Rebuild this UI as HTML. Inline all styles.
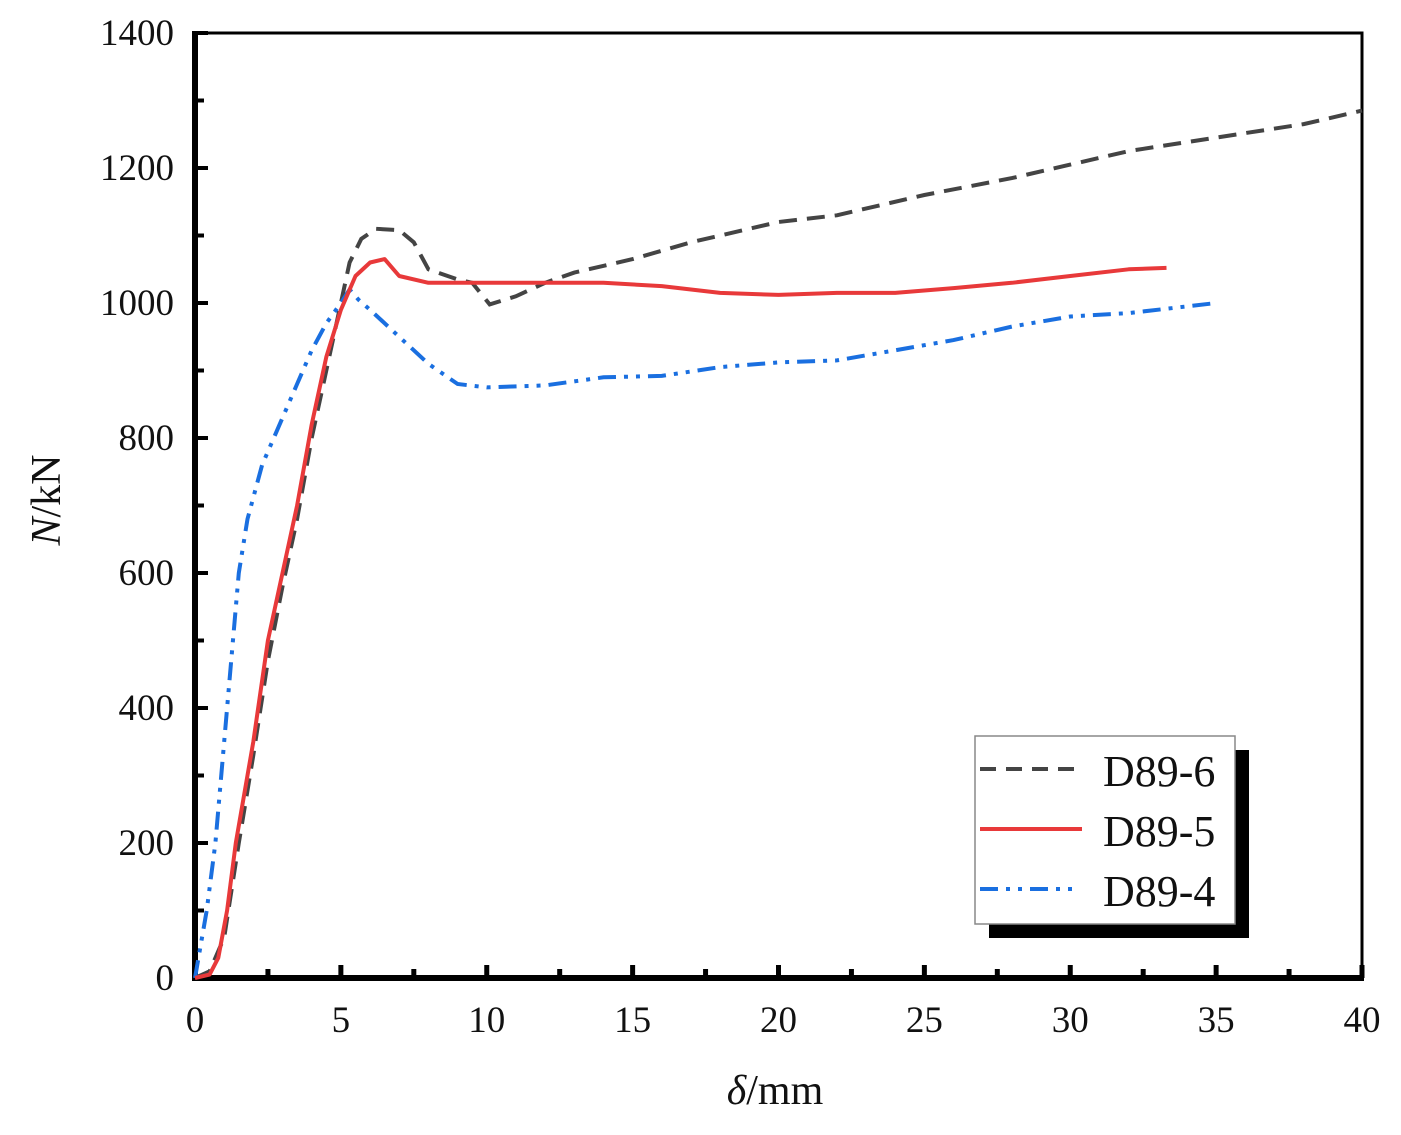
<!DOCTYPE html>
<html><head><meta charset="utf-8"><style>
body{margin:0;background:#fff;}
svg text{font-family:"Liberation Serif",serif;fill:#111;}
</style></head><body>
<svg id="chart" width="1401" height="1130" xmlns="http://www.w3.org/2000/svg">
<g id="axes"></g>
<g id="series"></g>
<text transform="translate(60,500) rotate(-90)" text-anchor="middle" font-size="42"><tspan font-style="italic">N</tspan>/kN</text>
<text x="775" y="1104" text-anchor="middle" font-size="42"><tspan font-style="italic">δ</tspan>/mm</text>
<g>
<rect x="989" y="750" width="260" height="188" fill="#000"/>
<rect x="975" y="736" width="260" height="188" fill="#fff" stroke="#888" stroke-width="1.5"/>
<line x1="980" y1="769" x2="1082" y2="769" stroke="#444" stroke-width="4" stroke-dasharray="16,10"/>
<text x="1103" y="786" font-size="44">D89-6</text>
<line x1="980" y1="829" x2="1082" y2="829" stroke="#e8393a" stroke-width="4"/>
<text x="1103" y="846" font-size="44">D89-5</text>
<line x1="980" y1="889" x2="1072" y2="889" stroke="#1a6fe0" stroke-width="4" stroke-dasharray="18,8,4,8,4,8"/>
<text x="1103" y="906" font-size="44">D89-4</text>
</g>
</svg>
<script>
const xTicks=[0,5,10,15,20,25,30,35,40];
const yTicks=[0,200,400,600,800,1000,1200,1400];
const d896X=[0,0.5,1,1.5,2,2.5,3,3.5,4,4.5,5,5.3,5.7,6.2,7,7.5,8,9,9.5,10.1,11,12,13,15,17,20,22,25,28,30,32,35,38,40];
const d896Y=[0,10,60,200,330,470,580,680,800,900,1000,1060,1095,1110,1108,1090,1050,1035,1030,998,1010,1030,1045,1065,1090,1120,1130,1160,1185,1205,1225,1245,1265,1285];
const d895X=[0,0.5,0.8,1.1,1.4,2,2.5,3,3.5,4,4.5,5,5.5,6,6.5,7,8,10,12,14,16,18,20,22,24,26,28,30,32,33.3];
const d895Y=[0,5,30,100,200,350,500,600,700,820,920,990,1040,1060,1065,1040,1030,1030,1030,1030,1025,1015,1012,1015,1015,1022,1030,1040,1050,1052];
const d894X=[0,0.4,0.7,1.1,1.5,1.8,2.3,3,3.5,4,4.5,5,5.3,5.6,6,7,8,9,10,12,14,16,18,20,22,24,26,28,30,32,34,35];
const d894Y=[0,100,200,400,600,680,760,830,880,930,970,1000,1020,1005,990,950,910,880,875,878,890,892,905,912,915,930,945,965,980,985,995,1000];
const L=195,R=1362,T=33,B=978;
const X=v=>L+(R-L)*v/40, Y=v=>B-(B-T)*v/1400;
const NS='http://www.w3.org/2000/svg';
const axes=document.getElementById('axes'), ser=document.getElementById('series');
function mk(tag,attrs,parent){const e=document.createElementNS(NS,tag);for(const k in attrs)e.setAttribute(k,attrs[k]);parent.appendChild(e);return e;}
let e;
e=mk('rect',{x:L,y:T,width:R-L,height:B-T,fill:'none',stroke:'#000','stroke-width':3},axes);


e=mk('line',{x1:L,y1:T-2,x2:L,y2:B+3,stroke:'#000','stroke-width':6},axes);


e=mk('line',{x1:L-3,y1:B,x2:R+2,y2:B,stroke:'#000','stroke-width':6},axes);


for(let v=0;v<=40;v+=2.5){const maj=v%5===0;
e=mk('line',{x1:X(v),y1:B,x2:X(v),y2:B-(maj?13:9),stroke:'#000','stroke-width':5},axes);

}
for(let v=0;v<=1400;v+=100){const maj=v%200===0;
e=mk('line',{x1:L,y1:Y(v),x2:L+(maj?13:9),y2:Y(v),stroke:'#000','stroke-width':4},axes);

}
xTicks.forEach(v=>{e=mk('text',{x:X(v),y:1032,'text-anchor':'middle','font-size':37},axes);e.textContent=v;

});
yTicks.forEach(v=>{e=mk('text',{x:174,y:Y(v)+12,'text-anchor':'end','font-size':37},axes);e.textContent=v;

});
function line(xs,ys){return xs.map((x,i)=>(i?'L':'M')+X(x).toFixed(1)+','+Y(ys[i]).toFixed(1)).join('');}
e=mk('path',{d:line(d896X,d896Y),fill:'none',stroke:'#444','stroke-width':4,'stroke-dasharray':'18,10'},ser);


e=mk('path',{d:line(d894X,d894Y),fill:'none',stroke:'#1a6fe0','stroke-width':4,'stroke-dasharray':'18,8,4,8,4,8'},ser);


e=mk('path',{d:line(d895X,d895Y),fill:'none',stroke:'#e8393a','stroke-width':4,'stroke-linejoin':'round'},ser);


</script>
</body></html>
